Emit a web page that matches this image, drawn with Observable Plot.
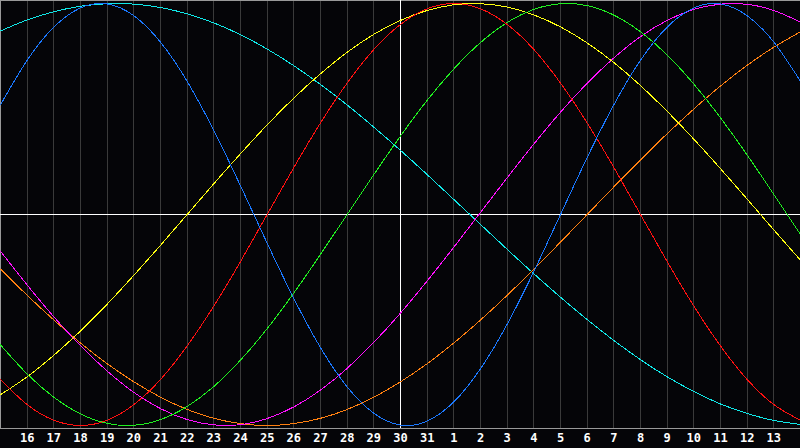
<!DOCTYPE html>
<html><head><meta charset="utf-8">
<script src="https://cdn.jsdelivr.net/npm/d3@7"></script>
<script src="https://cdn.jsdelivr.net/npm/@observablehq/plot@0.6"></script>
<style>html,body{margin:0;padding:0;background:#050508;overflow:hidden} svg{display:block}</style>
</head><body><div id="chart"></div>
<script>
// day index 0 = 15th of first month, 30 = 14th of next month
const dayIndex = [0,1,2,3,4,5,6,7,8,9,10,11,12,13,14,15,16,17,18,19,20,21,22,23,24,25,26,27,28,29,30];
const tickDays = [1,2,3,4,5,6,7,8,9,10,11,12,13,14,15,16,17,18,19,20,21,22,23,24,25,26,27,28,29];
const tickLabels = ["16","17","18","19","20","21","22","23","24","25","26","27","28","29","30","31","1","2","3","4","5","6","7","8","9","10","11","12","13"];
const todayIndex = [15];

// cycle values, one per day
const physical = [0.520,0.731,0.888,0.979,0.998,0.942,0.817,0.631,0.398,0.136,-0.136,-0.398,-0.631,-0.817,-0.942,-0.998,-0.979,-0.888,-0.731,-0.520,-0.270,0,0.270,0.520,0.731,0.888,0.979,0.998,0.942,0.817,0.631];
const emotional = [-0.782,-0.901,-0.975,-1,-0.975,-0.901,-0.782,-0.623,-0.434,-0.223,0,0.223,0.434,0.623,0.782,0.901,0.975,1,0.975,0.901,0.782,0.623,0.434,0.223,0,-0.223,-0.434,-0.623,-0.782,-0.901,-0.975];
const intellectual = [-0.618,-0.756,-0.866,-0.945,-0.990,-0.999,-0.972,-0.910,-0.815,-0.690,-0.541,-0.372,-0.189,0,0.189,0.372,0.541,0.690,0.815,0.910,0.972,0.999,0.990,0.945,0.866,0.756,0.618,0.458,0.282,0.095,-0.095];
const aesthetic = [-0.854,-0.769,-0.667,-0.552,-0.425,-0.288,-0.146,0,0.146,0.288,0.425,0.552,0.667,0.769,0.854,0.920,0.967,0.994,0.999,0.983,0.946,0.889,0.813,0.720,0.611,0.489,0.357,0.217,0.073,-0.073,-0.217];
const intuitive = [-0.174,-0.334,-0.485,-0.622,-0.742,-0.843,-0.920,-0.972,-0.997,-0.996,-0.967,-0.912,-0.832,-0.729,-0.606,-0.467,-0.315,-0.155,0.010,0.174,0.334,0.485,0.622,0.742,0.843,0.920,0.972,0.997,0.996,0.967,0.912];
const awareness = [-0.259,-0.383,-0.5,-0.609,-0.707,-0.793,-0.866,-0.924,-0.966,-0.991,-1,-0.991,-0.966,-0.924,-0.866,-0.793,-0.707,-0.609,-0.5,-0.383,-0.259,-0.131,0,0.131,0.259,0.383,0.5,0.609,0.707,0.793,0.866];
const spiritual = [0.870,0.922,0.961,0.987,0.999,0.997,0.981,0.951,0.908,0.852,0.784,0.705,0.616,0.519,0.414,0.304,0.189,0.071,-0.047,-0.165,-0.281,-0.392,-0.498,-0.597,-0.688,-0.769,-0.839,-0.898,-0.943,-0.976,-0.995];

const seriesNames = ["Spiritual","Awareness","Intuitive","Aesthetic","Intellectual","Emotional","Physical"];
const seriesValues = [spiritual, awareness, intuitive, aesthetic, intellectual, emotional, physical];
const seriesColors = ["#10e8e8","#ff8010","#ff10ff","#ffff10","#20f020","#ff1010","#1a78ff"];

const rows = [];
seriesNames.forEach((name, k) => seriesValues[k].forEach((v, i) => rows.push({name, d: dayIndex[i], v})));

const chart = Plot.plot({
  width: 800, height: 448,
  marginTop: 0, marginRight: 0, marginBottom: 20, marginLeft: 0,
  style: {background: "#050508", color: "#fff"},
  x: {domain: [0, 30], range: [0, 800]},
  y: {domain: [-1, 1], range: [425, 3], axis: null},
  color: {type: "ordinal", domain: seriesNames, range: seriesColors},
  marks: [
    Plot.ruleX(tickDays, {stroke: "#3a3a3a", strokeWidth: 1, shapeRendering: "crispEdges"}),
    Plot.frame({stroke: "#999", strokeWidth: 1, shapeRendering: "crispEdges"}),
    Plot.ruleX(todayIndex, {stroke: "#fff", strokeWidth: 1, shapeRendering: "crispEdges"}),
    Plot.ruleY([0], {stroke: "#fff", strokeWidth: 1, shapeRendering: "crispEdges"}),
    Plot.line(rows, {x: "d", y: "v", z: "name", stroke: "name", strokeWidth: 1, curve: "natural", shapeRendering: "crispEdges"}),
    Plot.axisX(tickDays, {
      tickFormat: d => tickLabels[tickDays.indexOf(d)],
      tickSize: 0, tickPadding: 5, label: null,
      fill: "#fff", fontWeight: "bold", fontSize: 12, fontFamily: "DejaVu Sans Mono"
    })
  ]
});
document.getElementById("chart").append(chart);
</script>
</body></html>
